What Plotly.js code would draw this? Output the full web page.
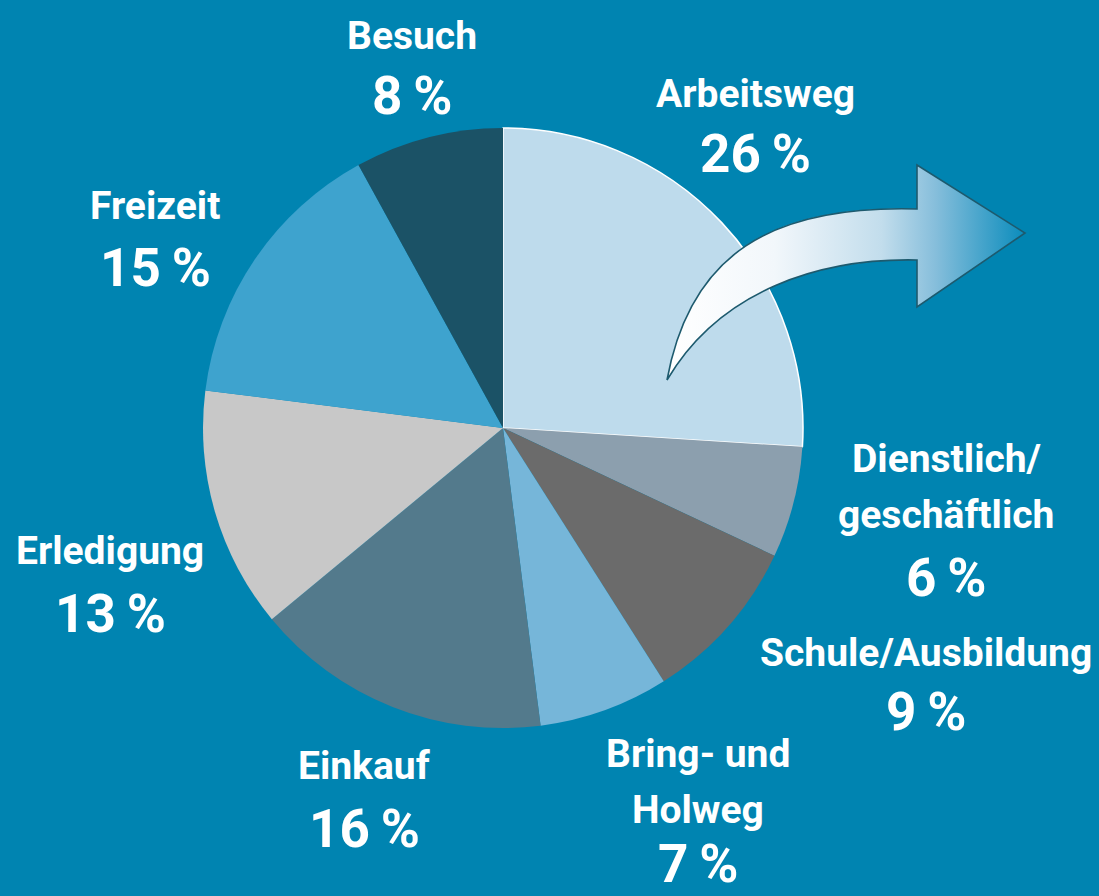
<!DOCTYPE html>
<html>
<head>
<meta charset="utf-8">
<script src="https://cdn.plot.ly/plotly-3.0.1.min.js"></script>
<style>
html,body{margin:0;padding:0;background:#0084B1;}
#chart{width:1099px;height:896px;}
</style>
</head>
<body>
<div id="chart"></div>
<script>
// ---- data ----
const categories = ["Arbeitsweg", "Dienstlich/ geschäftlich", "Schule/Ausbildung", "Bring- und Holweg", "Einkauf", "Erledigung", "Freizeit", "Besuch"];
const shares = [26, 6, 9, 7, 16, 13, 15, 8];
const labelLines = [["Arbeitsweg"], ["Dienstlich/", "geschäftlich"], ["Schule/Ausbildung"], ["Bring- und", "Holweg"], ["Einkauf"], ["Erledigung"], ["Freizeit"], ["Besuch"]];
const sliceColors = ["#BEDBEC", "#8C9FAE", "#6B6B6B", "#76B6D9", "#537A8C", "#C8C8C8", "#3EA3CE", "#1B5266"];

// ---- layout helpers (positions in px of the 1099x896 canvas) ----
const W = 1099, H = 896;
const FONT = "Roboto, 'Liberation Sans', sans-serif";
const labelPos = [
  {x: 755, ys: [94], py: 154},
  {x: 946, ys: [459, 515], py: 578},
  {x: 926, ys: [653], py: 712},
  {x: 698, ys: [754, 810], py: 864},
  {x: 364, ys: [766], py: 829},
  {x: 110, ys: [551], py: 614},
  {x: 155, ys: [206], py: 268},
  {x: 412, ys: [36], py: 96}
];

const annotations = [];
categories.forEach((c, i) => {
  const p = labelPos[i];
  labelLines[i].forEach((line, j) => {
    annotations.push({
      xref: 'paper', yref: 'paper', x: p.x / W, y: 1 - p.ys[j] / H,
      xanchor: 'center', yanchor: 'middle', showarrow: false,
      text: '<b>' + line + '</b>',
      font: {family: FONT, size: 39, color: '#FFFFFF'}
    });
  });
  annotations.push({
    xref: 'paper', yref: 'paper', x: p.x / W, y: 1 - p.py / H,
    xanchor: 'center', yanchor: 'middle', showarrow: false,
    text: '<b>' + shares[i] + '\u2009%</b>',
    font: {family: FONT, size: 53, color: '#FFFFFF'}
  });
});

// curved arrow (decoration) as an SVG image
const arrowSvg =
  '<svg xmlns="http://www.w3.org/2000/svg" width="1099" height="896" viewBox="0 0 1099 896">' +
  '<defs><linearGradient id="g" gradientUnits="userSpaceOnUse" x1="667" y1="0" x2="1025" y2="0">' +
  '<stop offset="0" stop-color="#FFFFFF"/>' +
  '<stop offset="0.3" stop-color="#F2F7FB"/>' +
  '<stop offset="0.6" stop-color="#C2DDEC"/>' +
  '<stop offset="0.75" stop-color="#86BEDB"/>' +
  '<stop offset="1" stop-color="#0A8CBC"/>' +
  '</linearGradient></defs>' +
  '<path d="M667,380 C690,255 770,205 917,209 L917,165 L1025,233 L917,307 L917,260 C820,258 720,290 667,380 Z" ' +
  'fill="url(#g)" stroke="#1D5A6E" stroke-width="1.6" stroke-linejoin="miter"/>' +
  '</svg>';
const arrowSrc = 'data:image/svg+xml;charset=utf-8,' + encodeURIComponent(arrowSvg);

const cx = 503, cy = 428, r = 300;
const trace = {
  type: 'pie',
  labels: categories,
  values: shares,
  sort: false,
  direction: 'clockwise',
  rotation: 0,
  textinfo: 'none',
  hoverinfo: 'label+percent',
  marker: {
    colors: sliceColors,
    line: {color: ['#FFFFFF', 'rgba(0,0,0,0)', 'rgba(0,0,0,0)', 'rgba(0,0,0,0)', 'rgba(0,0,0,0)', 'rgba(0,0,0,0)', 'rgba(0,0,0,0)', 'rgba(0,0,0,0)'],
           width: [1.5, 0, 0, 0, 0, 0, 0, 0]}
  },
  domain: {x: [(cx - r) / W, (cx + r) / W], y: [1 - (cy + r) / H, 1 - (cy - r) / H]},
  showlegend: false
};

const layout = {
  width: W, height: H,
  margin: {l: 0, r: 0, t: 0, b: 0, pad: 0},
  paper_bgcolor: '#0084B1',
  plot_bgcolor: '#0084B1',
  showlegend: false,
  annotations: annotations,
  images: [{
    source: arrowSrc, xref: 'paper', yref: 'paper',
    x: 0, y: 1, sizex: 1, sizey: 1, sizing: 'stretch',
    xanchor: 'left', yanchor: 'top', layer: 'above'
  }]
};

Plotly.newPlot('chart', [trace], layout, {displayModeBar: false, staticPlot: true});
</script>
</body>
</html>
